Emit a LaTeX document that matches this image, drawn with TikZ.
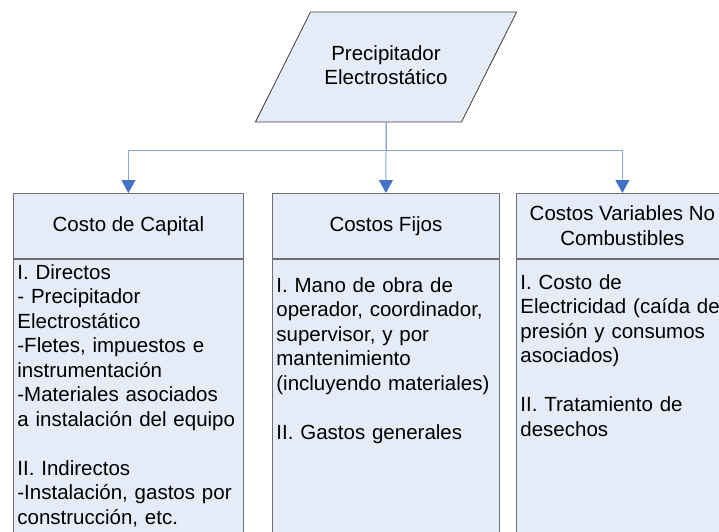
\documentclass[tikz,border=0pt]{standalone}
\usepackage{fontspec}
\setmainfont{Liberation Sans}
\usetikzlibrary{shapes.geometric,arrows.meta}

\definecolor{boxfill}{HTML}{E6ECF7}
\definecolor{boxedge}{HTML}{6E6E6E}
\definecolor{linkdark}{HTML}{4F7FC8}
\definecolor{linklight}{HTML}{8AA8DC}
\definecolor{linkhead}{HTML}{4472C4}

\tikzset{
  prl/.style={trapezium, trapezium left angle=63.4, trapezium right angle=116.6,
    text width=151pt, inner sep=0pt, text height=48pt, text depth=62pt,
    draw=black!75, fill=boxfill, align=center, line width=0.8pt},
  hdr/.style={draw=boxedge, fill=boxfill, minimum height=65pt, align=center,
    inner sep=0pt, anchor=north west, line width=0.8pt},
  body/.style={draw=boxedge, fill=boxfill, anchor=north, inner xsep=4pt,
    align=left, text depth=300pt, line width=0.8pt},
  link/.style={draw=linklight, line width=1pt},
  tip/.style={-{Triangle[length=13pt,width=14pt,color=linkhead]}}
}

\begin{document}
\begin{tikzpicture}[x=1pt,y=-1pt,font=\fontsize{20.5}{24.5}\selectfont]
\useasboundingbox (0,0) rectangle (719,531);
\clip (0,0) rectangle (719,531);

\node[prl] (prec) at (386,67) {Precipitador\\Electrostático};

% the three cost boxes
\node[hdr, minimum width=230pt] (capHdr) at (13,193) {Costo de Capital};
\node[body, text width=222pt, inner ysep=5pt] (capBody) at (capHdr.south)
  {I. Directos\\- Precipitador\\Electrostático\\-Fletes, impuestos e\\instrumentación\\-Materiales asociados\\a instalación del equipo\\[24.5pt]II. Indirectos\\-Instalación, gastos por\\construcción, etc.};

\node[hdr, minimum width=227pt] (fijHdr) at (272,193) {Costos Fijos};
\node[body, text width=219pt, inner ysep=18pt] (fijBody) at (fijHdr.south)
  {I. Mano de obra de\\operador, coordinador,\\supervisor, y por\\mantenimiento\\(incluyendo materiales)\\[24.5pt]II. Gastos generales};

\node[hdr, minimum width=212pt] (varHdr) at (516,193) {Costos Variables No\\Combustibles};
\node[body, text width=204pt, inner ysep=15pt] (varBody) at (varHdr.south)
  {I. Costo de\\Electricidad (caída de\\presión y consumos\\asociados)\\[24.5pt]II. Tratamiento de\\desechos};

% connectors
\coordinate (split) at (386,150);
\draw[link, draw=linkdark] (prec.south) -- (split);
\draw[link, tip] (split) -- (fijHdr.north);
\draw[link] (capHdr.north |- split) -- (varHdr.north |- split);
\draw[link, tip] (capHdr.north |- split) -- (capHdr.north);
\draw[link, tip] (varHdr.north |- split) -- (varHdr.north);
\end{tikzpicture}
\end{document}
